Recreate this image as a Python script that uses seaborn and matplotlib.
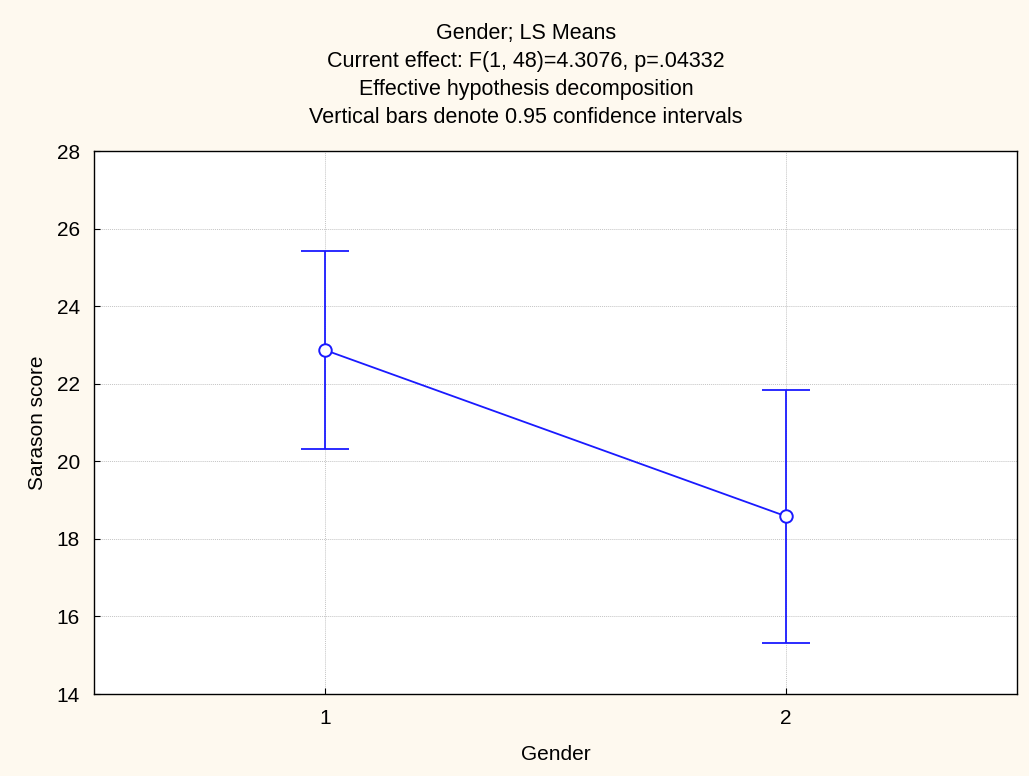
import pandas as pd
import matplotlib
matplotlib.use("Agg")
import matplotlib.pyplot as plt
import seaborn as sns

# LS means por genero con intervalos de confianza 0.95
gender = [1, 2]
ls_mean = [22.87, 18.58]
ci_low = [20.31, 15.31]
ci_high = [25.43, 21.85]

df = pd.DataFrame({'Gender': gender, 'Sarason score': ls_mean})

sns.set_style("white")
plt.rcParams['font.family'] = ['Liberation Sans', 'DejaVu Sans']
plt.rcParams['text.color'] = 'black'
plt.rcParams['axes.labelcolor'] = 'black'

fig = plt.figure(figsize=(10.29, 7.76), dpi=100, facecolor='#fef9ef')
ax = fig.add_axes([94/1029, 1-694/776, 923/1029, 543/776])
ax.set_facecolor('white')

blue = '#1a1aff'
err_lo = [m - l for m, l in zip(ls_mean, ci_low)]
err_hi = [h - m for m, h in zip(ls_mean, ci_high)]
ax.errorbar(gender, ls_mean, yerr=[err_lo, err_hi], fmt='none', ecolor=blue,
            elinewidth=1.3, capsize=17, capthick=1.3, zorder=2)
sns.lineplot(x='Gender', y='Sarason score', data=df, ax=ax, color=blue,
             linewidth=1.3, marker='o', markersize=9, markerfacecolor='white',
             markeredgecolor=blue, markeredgewidth=1.4, zorder=3)

ax.set_xlim(0.5, 2.5)
ax.set_ylim(14, 28)
ax.set_xticks(gender)
ax.set_yticks(range(14, 29, 2))
ax.grid(True, color='#c4c4c4', linestyle=(0, (1, 1)), linewidth=0.7)
for s in ax.spines.values():
    s.set_color('black')
    s.set_linewidth(1.0)
ax.tick_params(axis='both', labelsize=15, colors='black', direction='in',
               length=4, left=True, bottom=True)
ax.tick_params(axis='y', pad=10)
ax.tick_params(axis='x', pad=11)

ax.set_xlabel("Gender", fontsize=15, labelpad=12)
ax.set_ylabel("Sarason score", fontsize=15, labelpad=7)
ax.set_title("Gender; LS Means\nCurrent effect: F(1, 48)=4.3076, p=.04332\n"
             "Effective hypothesis decomposition\n"
             "Vertical bars denote 0.95 confidence intervals",
             fontsize=15.5, linespacing=1.45, pad=20, x=(526-94)/923)

fig.savefig("out.png", dpi=100, facecolor=fig.get_facecolor())
